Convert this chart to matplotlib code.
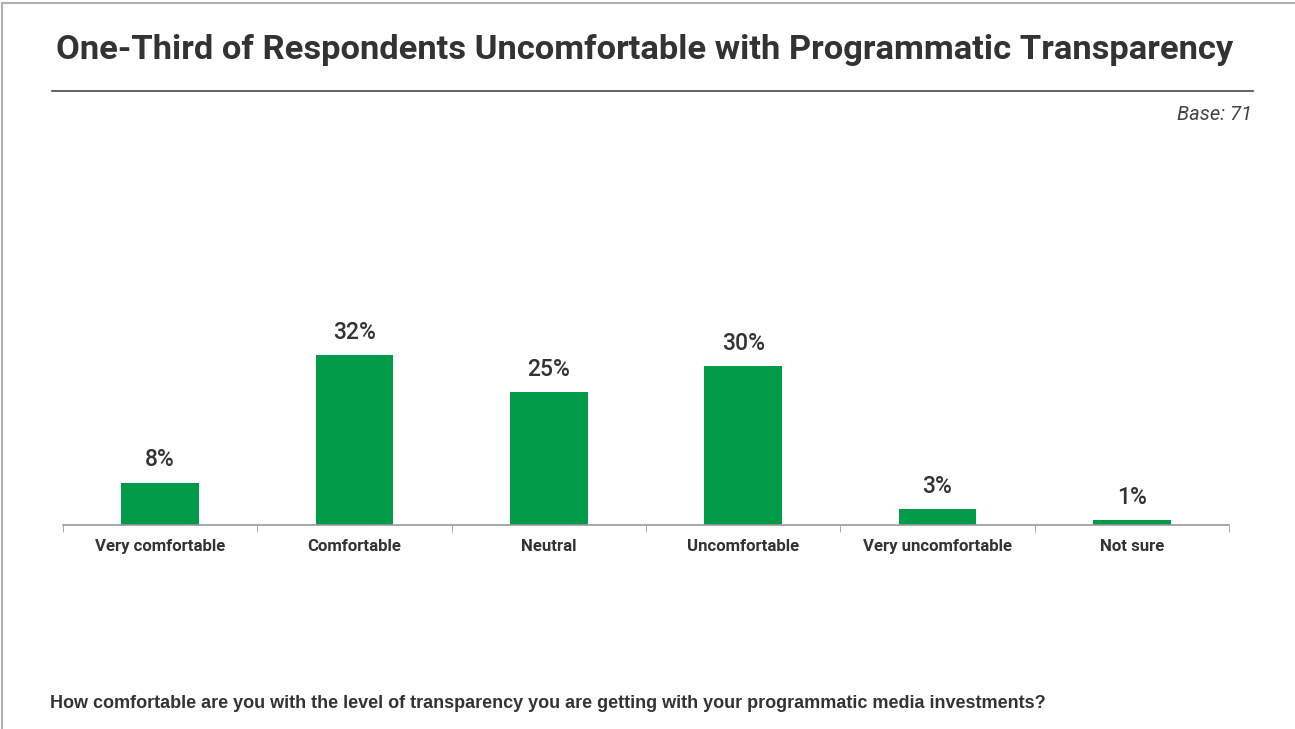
import matplotlib.pyplot as plt
from matplotlib.lines import Line2D

categories = ['Very comfortable', 'Comfortable', 'Neutral', 'Uncomfortable',
              'Very uncomfortable', 'Not sure']
shares = [8, 32, 25, 30, 3, 1]  # percent of respondents

title = 'One-Third of Respondents Uncomfortable with Programmatic Transparency'
base_note = 'Base: 71'
question = ('How comfortable are you with the level of transparency you are '
            'getting with your programmatic media investments?')

green = '#009a49'
dark = '#333333'
face = ['Roboto', 'DejaVu Sans']

fig = plt.figure(figsize=(12.95, 7.29), dpi=100)
W, H = 1295, 729

# page frame (top and left edges) and rule below the title
fig.add_artist(Line2D([1.5 / W, 1.5 / W], [0, 1 - 3 / H], color='#b0b0b0', lw=1.5))
fig.add_artist(Line2D([1.5 / W, 1], [1 - 3 / H, 1 - 3 / H], color='#b0b0b0', lw=1.5))
fig.add_artist(Line2D([52 / W, 1253 / W], [1 - 91 / H, 1 - 91 / H], color='#555555', lw=1.3))

fig.text(645 / W, 1 - 50 / H, title, ha='center', va='center', fontsize=24.8,
         fontweight='bold', color=dark, family=face)
fig.text(1252 / W, 1 - 114 / H, base_note, ha='right', va='center', fontsize=14.5,
         style='italic', color='#444444', family=face)
fig.text(50 / W, 1 - 703 / H, question, ha='left', va='center', fontsize=12.95,
         fontweight='bold', color=dark, family='Liberation Sans')

ax = fig.add_axes([63 / W, 1 - 525 / H, (1229 - 63) / W, (525 - 312.6) / H])
x = range(len(categories))
bars = ax.bar(x, shares, width=0.4, color=green)
for xi, v in zip(x, shares):
    ax.annotate(f'{v}%', (xi, v), xytext=(0, 8), textcoords='offset points',
                ha='center', va='bottom', fontsize=16.5, fontweight='medium',
                color=dark, family=face)

ax.set_xlim(-0.5, len(categories) - 0.5)
ax.set_ylim(0, 40)
ax.set_yticks([])
ax.set_xticks(list(x))
ax.set_xticklabels(categories, fontsize=12.1, fontweight='bold', color=dark,
                   family=face)
ax.tick_params(axis='x', length=0, pad=10)
ax.set_xticks([i - 0.5 for i in range(len(categories) + 1)], minor=True)
ax.tick_params(axis='x', which='minor', length=5, color='#999999')
for side in ['top', 'right', 'left']:
    ax.spines[side].set_visible(False)
ax.spines['bottom'].set_color('#999999')
ax.spines['bottom'].set_linewidth(1.2)

fig.savefig('out.png', dpi=100)
